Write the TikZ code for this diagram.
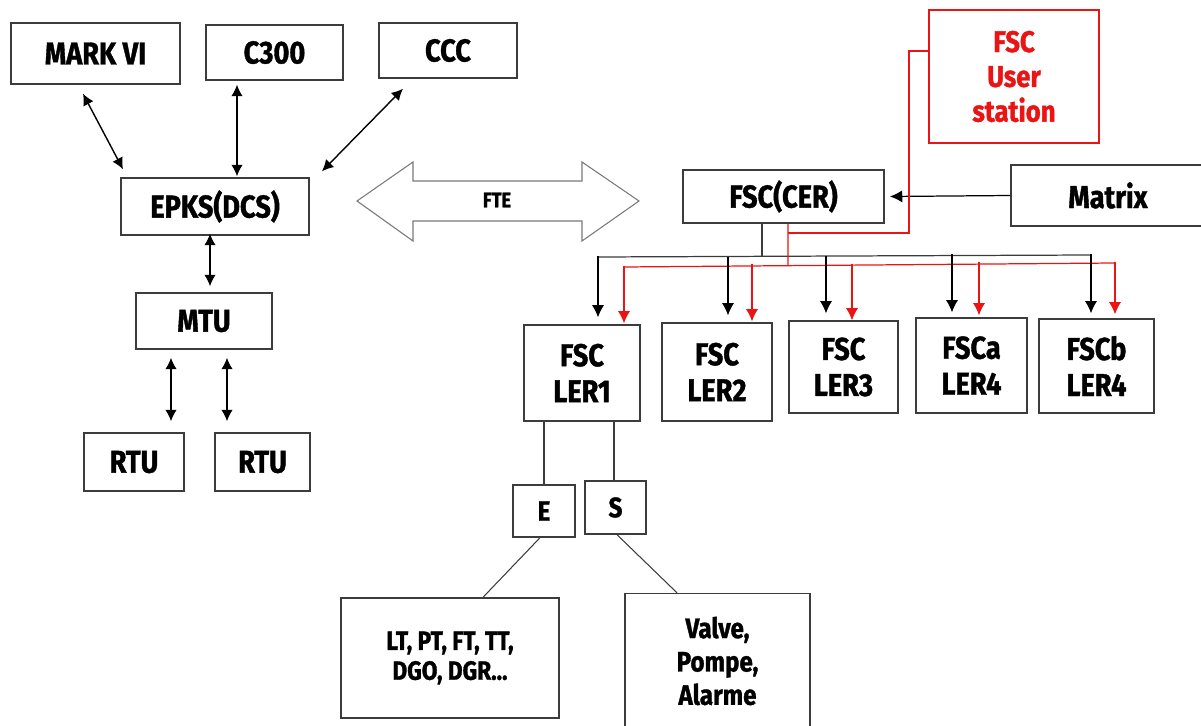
\documentclass[tikz,border=0pt]{standalone}
\usepackage{fontspec}
\setmainfont{Fira Sans}[FakeStretch=0.86, BoldFeatures={FakeBold=1.2}]
\usepackage{tikz}
\usetikzlibrary{arrows.meta, positioning, calc}
\definecolor{LineGray}{RGB}{60, 60, 60}
\definecolor{FteGray}{RGB}{120, 120, 120}
\definecolor{UserRed}{RGB}{235, 20, 20}

\begin{document}
\begin{tikzpicture}[
            x=0.02cm, y=-0.02cm,
            box/.style={draw=LineGray, line width=0.8pt, fill=white, align=center, inner sep=0pt,
                        font=\fontsize{18}{20.5}\selectfont\bfseries},
            redbox/.style={box, draw=UserRed, text=UserRed, font=\fontsize{17}{19.8}\selectfont\bfseries},
            biarrow/.style={{Latex[length=6.5pt, width=6.5pt]}-{Latex[length=6.5pt, width=6.5pt]}, line width=0.8pt},
            dnarrow/.style={-{Latex[length=7pt, width=7pt]}, line width=0.7pt},
            wire/.style={draw=LineGray, line width=0.6pt},
            redwire/.style={draw=UserRed, line width=0.7pt}
        ]
        \useasboundingbox (0,0) rectangle (1201,726);

        % DCS side
        \node[box, minimum width=3.38cm, minimum height=1.22cm] (mark) at (95.5,53.5) {MARK VI};
        \node[box, minimum width=2.74cm, minimum height=1.1cm] (c300) at (274.5,52.5) {C300};
        \node[box, minimum width=2.76cm, minimum height=1.1cm] (ccc) at (448,50.5) {CCC};
        \node[box, minimum width=3.76cm, minimum height=1.14cm] (epks) at (215,206.5) {EPKS(DCS)};
        \node[box, minimum width=2.72cm, minimum height=1.12cm] (mtu) at (204,321) {MTU};
        \node[box, minimum width=2.0cm, minimum height=1.16cm] (rtua) at (134,462) {RTU};
        \node[box, minimum width=1.9cm, minimum height=1.16cm] (rtub) at (262.5,462) {RTU};

        \draw[biarrow] ([shift={(-12.5,9)}]mark.south) -- ([shift={(-92,-8)}]epks.north);
        \draw[biarrow] ([shift={(-37.5,4)}]c300.south) -- ([shift={(22,-1)}]epks.north);
        \draw[biarrow] ([shift={(-45,10)}]ccc.south) -- ([shift={(107,-6)}]epks.north);
        \draw[biarrow] ([shift={(-5,-2)}]epks.south) -- ([shift={(6,-6)}]mtu.north);
        \draw[biarrow] ([shift={(-33,8)}]mtu.south) -- ([shift={(37,-11)}]rtua.north);
        \draw[biarrow] ([shift={(23,8)}]mtu.south) -- ([shift={(-35.5,-11)}]rtub.north);

        % FTE
        \draw[FteGray, line width=0.6pt] (357,201) -- (413,162) -- (413,181) -- (582,181) -- (582,162)
            -- (639,201) -- (582,241) -- (582,221) -- (413,221) -- (413,241) -- cycle;
        \node[font=\fontsize{12}{14}\selectfont\bfseries] (fte) at (497,200) {FTE};

        % FSC side
        \node[redbox, minimum width=3.4cm, minimum height=2.66cm] (user) at (1014,76.5) {FSC\\User\\station};
        \node[box, minimum width=4.02cm, minimum height=1.06cm] (cer) at (783.5,196.5) {FSC(CER)};
        \node[box, minimum width=3.88cm, minimum height=1.22cm] (matrix) at (1108,195.5) {Matrix};

        \node[box, minimum width=2.32cm, minimum height=1.92cm] (ler1) at (582,373) {FSC\\LER1};
        \node[box, minimum width=2.2cm, minimum height=1.96cm] (ler2) at (717,372) {FSC\\LER2};
        \node[box, minimum width=2.18cm, minimum height=1.84cm] (ler3) at (843.5,367) {FSC\\LER3};
        \node[box, minimum width=2.22cm, minimum height=1.9cm] (ler4a) at (971.5,365.5) {FSCa\\LER4};
        \node[box, minimum width=2.3cm, minimum height=1.88cm] (ler4b) at (1096.5,366) {FSCb\\LER4};

        \node[box, minimum width=1.24cm, minimum height=1.04cm, font=\fontsize{16}{18}\selectfont\bfseries] (e) at (544,511) {E};
        \node[box, minimum width=1.22cm, minimum height=1.06cm, font=\fontsize{16}{18}\selectfont\bfseries] (s) at (615.5,507.5) {S};
        \node[box, minimum width=4.36cm, minimum height=2.4cm, font=\fontsize{15}{17}\selectfont\bfseries] (sensors) at (450,658) {LT, PT, FT, TT,\\DGO, DGR...};
        \node[box, minimum width=3.7cm, minimum height=2.7cm, font=\fontsize{16}{19}\selectfont\bfseries] (actuators) at (717.5,661) {Valve,\\Pompe,\\Alarme};

        \draw[dnarrow] (matrix.west) -- ([xshift=3pt]cer.east);

        % Buses
        \coordinate (bbus) at (762,257);
        \coordinate (rbus) at (788,265);
        \draw[wire, line width=0.7pt] ([shift={(-21.5,0)}]cer.south) -- (bbus);
        \draw[wire, line width=0.7pt] (598,257) -- (1091,255);
        \draw[redwire] ([shift={(0,-25.5)}]user.west) -| (909,233) -- (788,233);
        \draw[redwire] ([shift={(4.5,0)}]cer.south) -- (rbus);
        \draw[redwire] (624,267) -- (1115,263);

        \draw[dnarrow] (ler1.north) ++(16,-68) -- ++(0,61);
        \draw[dnarrow] (ler2.north) ++(11,-65) -- ++(0,58);
        \draw[dnarrow] (ler3.north) ++(-17.5,-64) -- ++(0,57);
        \draw[dnarrow] (ler4a.north) ++(-19.5,-63) -- ++(0,58);
        \draw[dnarrow] (ler4b.north) ++(-5.5,-64) -- ++(0,59);

        \draw[dnarrow, UserRed] (ler1.north) ++(42,-58) -- ++(0,57);
        \draw[dnarrow, UserRed] (ler2.north) ++(35,-58) -- ++(0,57);
        \draw[dnarrow, UserRed] (ler3.north) ++(8.5,-56) -- ++(0,56);
        \draw[dnarrow, UserRed] (ler4a.north) ++(7.5,-55) -- ++(0,53);
        \draw[dnarrow, UserRed] (ler4b.north) ++(18.5,-56) -- ++(0,52);

        % I/O
        \draw[wire] ([shift={(-38,0)}]ler1.south) -- (e.north);
        \draw[wire] ([shift={(32,0)}]ler1.south) -- ([shift={(-1.5,0)}]s.north);
        \draw[wire] ([shift={(-4,0)}]e.south) -- ([shift={(33,0)}]sensors.north);
        \draw[wire] ([shift={(1.5,0)}]s.south) -- ([shift={(-40.5,0)}]actuators.north);

        \end{tikzpicture}
\end{document}
